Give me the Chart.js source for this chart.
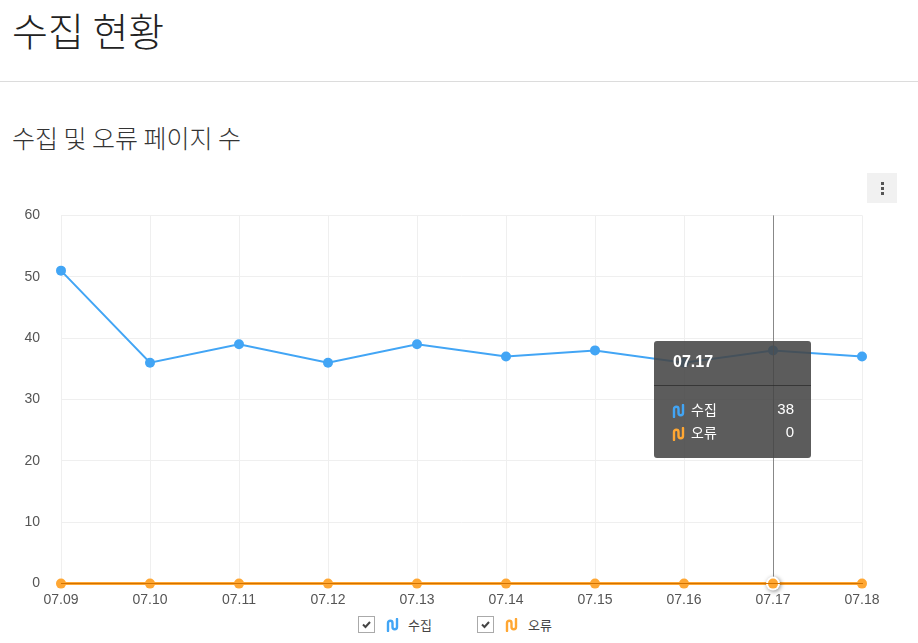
<!DOCTYPE html>
<html>
<head>
<meta charset="utf-8">
<script src="https://cdn.jsdelivr.net/npm/chart.js@4"></script>
<style>
    body { margin: 0; background: #fff; font-family: "Noto Sans CJK KR", "Liberation Sans", sans-serif; color: #222; }
    #page-title { position: absolute; left: 12px; top: 0px; margin: 0; font-size: 39px; font-weight: 300; line-height: 58px; }
    #rule { position: absolute; left: 0; top: 81px; width: 918px; height: 1px; background: #dcdcdc; }
    #chart-title { position: absolute; left: 12px; top: 119px; margin: 0; font-size: 25px; font-weight: 300; line-height: 36px; color: #333; }
    #menu-btn { position: absolute; left: 867px; top: 173px; width: 30px; height: 30px; background: #f1f1f1; }
    #menu-btn i { position: absolute; left: 14px; width: 3px; height: 3px; background: #555; }
    #graph-box { position: absolute; left: 0; top: 186px; width: 918px; height: 427px; }
    #legend { position: absolute; top: 615px; left: 0; width: 918px; height: 22px; font-size: 13px; color: #444; white-space: nowrap; }
    .leg-item { position: absolute; top: 0; height: 20px; width: 80px; }
    .leg-check { position: absolute; top: 1px; width: 17px; height: 17px; border: 1px solid #aaa; box-sizing: border-box; background: #fff; }
    .leg-icon { position: absolute; top: 2px; }
    .leg-text { position: absolute; top: 0; line-height: 20px; white-space: nowrap; }
    #tip { position: absolute; display: none; width: 157px; height: 117px; background: rgba(70, 70, 70, 0.88); border-radius: 3px; color: #fff; font-family: "Liberation Sans", "Noto Sans CJK KR", sans-serif; }
    #tip .tip-title { position: absolute; left: 19px; top: 12px; font-size: 16px; font-weight: bold; }
    #tip .tip-sep { position: absolute; left: 0; top: 44px; width: 157px; height: 1px; background: rgba(40, 40, 40, 0.7); }
    .tip-row { position: absolute; left: 18px; width: 122px; height: 20px; font-size: 15px; white-space: nowrap; }
    .tip-row svg { position: absolute; left: 0; top: 4px; }
    .tip-row .nm { position: absolute; left: 19px; top: -1px; font-family: "Noto Sans CJK KR", sans-serif; font-size: 14px; }
    .tip-row .val { position: absolute; right: 0; top: 0; }
</style>
</head>
<body>
<h1 id="page-title">수집 현황</h1>
<div id="rule"></div>
<h2 id="chart-title">수집 및 오류 페이지 수</h2>
<div id="menu-btn"><i style="top:9px"></i><i style="top:14px"></i><i style="top:19px"></i></div>
<div id="graph-box"><canvas id="graph"></canvas></div>
<div id="legend"></div>
<div id="tip"></div>
<script>
const dates = ['07.09', '07.10', '07.11', '07.12', '07.13', '07.14', '07.15', '07.16', '07.17', '07.18'];
const collected = [51, 36, 39, 36, 39, 37, 38, 36, 38, 37];
const errors = [0, 0, 0, 0, 0, 0, 0, 0, 0, 0];
const series_names = ['수집', '오류'];
const series_colors = ['#42a5f5', '#ffa733'];
const y_ticks = [0, 10, 20, 30, 40, 50, 60];
const hover_index = 8;

function wave_icon(color) {
    return '<svg width="13" height="14" viewBox="0 0 13 14"><path d="M2 13 V5 a2.25 2.25 0 0 1 4.5 0 V9 a2.25 2.25 0 0 0 4.5 0 V1" ' +
        'fill="none" stroke="' + color + '" stroke-width="2.4" stroke-linecap="round"/></svg>';
}

function check_icon() {
    return '<svg width="15" height="15" viewBox="0 0 15 15" style="position:absolute;left:0;top:0"><path d="M4 7.5 L6.5 10 L11 5" ' +
        'fill="none" stroke="#444" stroke-width="2"/></svg>';
}

function build_legend() {
    const lefts = [358, 477];
    let html = '';
    for (let i = 0; i < series_names.length; ++i) {
        html += '<div class="leg-item" style="left:' + lefts[i] + 'px">' +
            '<div class="leg-check" style="left:0">' + check_icon() + '</div>' +
            '<div class="leg-icon" style="left:28px">' + wave_icon(series_colors[i]) + '</div>' +
            '<div class="leg-text" style="left:' + (i === 0 ? 50 : 51) + 'px">' + series_names[i] + '</div></div>';
    }
    document.getElementById('legend').innerHTML = html;
}

const hover_line = {
    id: 'hover_line',
    afterDatasetsDraw(c) {
        const x = c.scales.x.getPixelForValue(hover_index);
        const ctx = c.ctx;
        ctx.save();
        ctx.strokeStyle = '#888888';
        ctx.lineWidth = 1;
        ctx.beginPath();
        ctx.moveTo(Math.round(x) + 0.5, c.chartArea.top);
        ctx.lineTo(Math.round(x) + 0.5, c.chartArea.bottom);
        ctx.stroke();
        // hovered error point, white ring and soft shadow
        const pt = c.getDatasetMeta(1).data[hover_index];
        ctx.shadowColor = 'rgba(0,0,0,0.45)';
        ctx.shadowBlur = 4;
        ctx.shadowOffsetX = 1;
        ctx.shadowOffsetY = 1;
        ctx.fillStyle = '#ffffff';
        ctx.beginPath();
        ctx.arc(pt.x, pt.y, 7, 0, Math.PI * 2);
        ctx.fill();
        ctx.shadowColor = 'transparent';
        ctx.fillStyle = series_colors[1];
        ctx.beginPath();
        ctx.arc(pt.x, pt.y, 5, 0, Math.PI * 2);
        ctx.fill();
        ctx.restore();
    }
};

function show_tooltip(c) {
    const x = c.scales.x.getPixelForValue(hover_index);
    const y = c.scales.y.getPixelForValue(collected[hover_index]);
    const box = document.getElementById('graph-box');
    const tip = document.getElementById('tip');
    const vals = [collected[hover_index], errors[hover_index]];
    let html = '<div class="tip-title">' + dates[hover_index] + '</div><div class="tip-sep"></div>';
    for (let i = 0; i < series_names.length; ++i) {
        html += '<div class="tip-row" style="top:' + (59 + i * 23) + 'px">' + wave_icon(series_colors[i]) +
            '<span class="nm">' + series_names[i] + '</span><span class="val">' + vals[i] + '</span></div>';
    }
    tip.innerHTML = html;
    tip.style.left = (box.offsetLeft + x - 119) + 'px';
    tip.style.top = (box.offsetTop + y - 9) + 'px';
    tip.style.display = 'block';
}

function draw_chart() {
    Chart.defaults.font.family = '"Liberation Sans", Arial, sans-serif';
    Chart.defaults.color = '#555555';
    const data = {
        labels: dates,
        datasets: [
            {
                label: series_names[0],
                data: collected,
                borderColor: series_colors[0],
                backgroundColor: series_colors[0],
                borderWidth: 2,
                pointRadius: 5,
                pointBorderWidth: 0,
                tension: 0,
                clip: false
            },
            {
                label: series_names[1],
                data: errors,
                borderColor: series_colors[1],
                backgroundColor: series_colors[1],
                borderWidth: 3,
                pointRadius: 5,
                pointBorderWidth: 0,
                tension: 0,
                clip: false
            }
        ]
    };
    const config = {
        type: 'line',
        data,
        options: {
            responsive: true,
            maintainAspectRatio: false,
            animation: false,
            events: [],
            layout: { padding: { top: 10, right: 56, left: 0, bottom: 0 } },
            plugins: { legend: { display: false }, tooltip: { enabled: false } },
            scales: {
                x: {
                    offset: false,
                    grid: { color: '#efefef', drawTicks: false },
                    border: { display: true, color: '#d27200', width: 1, z: 1 },
                    ticks: { padding: 8, font: { size: 14 }, color: '#555555', maxRotation: 0, autoSkip: false },
                    afterFit(scale) { scale.height = 27; }
                },
                y: {
                    min: 0,
                    max: 60,
                    afterBuildTicks(scale) { scale.ticks = y_ticks.map(v => ({ value: v })); },
                    grid: { color: '#efefef', drawTicks: false },
                    border: { display: false },
                    ticks: { padding: 21, font: { size: 14 }, color: '#555555' },
                    afterFit(scale) { scale.width = 61; }
                }
            }
        },
        plugins: [hover_line]
    };
    const chart = new Chart(document.getElementById('graph'), config);
    show_tooltip(chart);
}

build_legend();
draw_chart();
</script>
</body>
</html>
